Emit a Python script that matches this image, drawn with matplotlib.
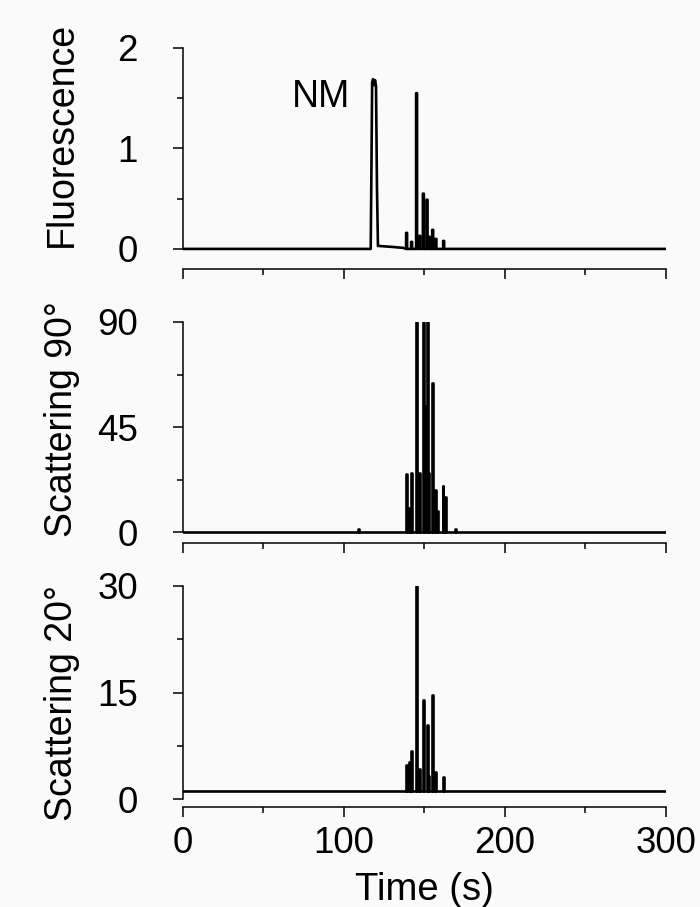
import numpy as np
import matplotlib
matplotlib.use("Agg")
import matplotlib.pyplot as plt
from matplotlib.ticker import MultipleLocator

plt.rcParams['font.family'] = ['Liberation Sans', 'DejaVu Sans']

# fluorescence trace: the NM peak plus short spikes
nm_times = [116.6, 117.1, 117.5, 118.1, 118.7, 119.3, 119.9, 120.5, 121.1, 130.0, 137.0]
nm_values = [0.0, 0.9, 1.66, 1.69, 1.63, 1.68, 1.62, 0.6, 0.03, 0.02, 0.01]
fl_times = [138.9, 142.0, 145.1, 147.0, 149.3, 151.6, 153.0, 155.1, 157.1, 161.9]
fl_heights = [0.16, 0.07, 1.55, 0.13, 0.55, 0.49, 0.12, 0.19, 0.10, 0.08]
fl_base = 0.0

# 90 degree scattering spikes
s90_times = [108.9, 138.9, 140.6, 142.2, 145.1, 147.1, 149.3, 150.3, 151.6, 152.6,
             155.1, 157.1, 158.2, 161.5, 162.9, 169.0]
s90_heights = [1.2, 24.7, 10.1, 25.4, 90, 25.4, 90, 54.0, 90, 25.4,
               63.7, 18.0, 9.0, 19.9, 15.1, 1.5]
s90_base = 0.0

# 20 degree scattering spikes
s20_times = [138.9, 140.7, 142.2, 145.1, 147.1, 149.3, 151.6, 152.6, 155.1, 157.1, 161.8]
s20_heights = [4.8, 5.2, 6.8, 30.0, 4.3, 13.9, 10.4, 3.2, 14.6, 3.8, 3.1]
s20_base = 1.1

ylabels = ["Fluorescence", "Scattering 90\u00b0", "Scattering 20\u00b0"]
yticks = [[0, 1, 2], [0, 45, 90], [0, 15, 30]]
ymins = [-0.2, -4.7, -1.1]
xticks = [0, 100, 200, 300]


def spike_trace(base, times, heights, extra=None, w=0.3):
    pts = [(0.0, base), (300.0, base)]
    for t, h in zip(times, heights):
        pts += [(t - w, base), (t - w, h), (t + w, h), (t + w, base)]
    if extra is not None:
        pts += list(zip(*extra))
    pts.sort(key=lambda p: p[0])
    x, y = zip(*pts)
    return np.array(x), np.array(y)


traces = [
    spike_trace(fl_base, fl_times, fl_heights, extra=(nm_times, nm_values)),
    spike_trace(s90_base, s90_times, s90_heights),
    spike_trace(s20_base, s20_times, s20_heights),
]

fig = plt.figure(figsize=(7, 9.07), dpi=100, facecolor='#fafafa')
bottoms = [0.7034, 0.4013, 0.1103]
label_y = [0.61, 0.561, 0.47]

for i in range(3):
    ax = fig.add_axes([0.2614, bottoms[i], 0.69, 0.2437])
    ax.set_facecolor('#fafafa')
    x, y = traces[i]
    ax.plot(x, y, color='black', lw=1.9)
    ax.set_xlim(0, 300)
    ax.set_ylim(ymins[i], yticks[i][-1])

    for s in ['top', 'right']:
        ax.spines[s].set_visible(False)
    ax.spines['left'].set_bounds(0, yticks[i][-1])
    ax.spines['left'].set_linewidth(1.1)
    ax.spines['bottom'].set_linewidth(1.1)

    ax.set_yticks(yticks[i])
    ax.yaxis.set_minor_locator(MultipleLocator(yticks[i][1] / 2))
    ax.set_xticks(xticks)
    ax.xaxis.set_minor_locator(MultipleLocator(50))
    ax.tick_params(which='major', length=7.5, width=1.1, labelsize=26.5)
    ax.tick_params(which='minor', length=4, width=1.1)
    ax.tick_params(axis='y', pad=25)
    ax.tick_params(axis='x', pad=6)
    if i < 2:
        ax.tick_params(axis='x', labelbottom=False)
    else:
        ax.set_xlabel("Time (s)", fontsize=27.5, labelpad=8)

    ax.set_ylabel(ylabels[i], fontsize=27, va='center')
    ax.yaxis.set_label_coords(-0.25, label_y[i])

    if i == 0:
        ax.text(86, 1.51, "NM", fontsize=27, ha='center', va='center')

fig.savefig("out.png", dpi=100, facecolor=fig.get_facecolor())
